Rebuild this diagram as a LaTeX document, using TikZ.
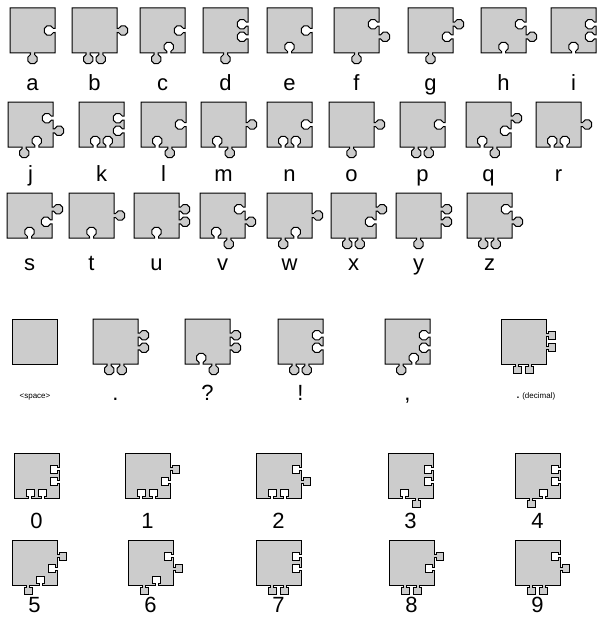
\documentclass[tikz,border=0pt]{standalone}
\usepackage{fontspec}
\setmainfont{Liberation Sans}
\begin{document}
\begin{tikzpicture}[x=1pt,y=1pt,
  piece/.style={draw=black,fill=pgray,line width=1pt,line join=miter},
  lab/.style={anchor=base,inner sep=0pt,font=\fontsize{22}{24}\selectfont},
  small/.style={anchor=base,inner sep=0pt,font=\fontsize{8}{9}\selectfont}]
\definecolor{pgray}{RGB}{204,204,204}
\useasboundingbox[fill=white] (0,0) rectangle (609,-626);
% round knobs
\def\Ro#1{-- ({\pL+45},{\pT-#1*45+2}) -- ({\pL+46.5},{\pT-#1*45+2}) arc[start angle=156.4,end angle=-156.4,radius=5] -- ({\pL+45},{\pT-#1*45-2})}
\def\Ri#1{-- ({\pL+45},{\pT-#1*45+2}) -- ({\pL+43.5},{\pT-#1*45+2}) arc[start angle=23.6,end angle=336.4,radius=5] -- ({\pL+45},{\pT-#1*45-2})}
\def\Bo#1{-- ({\pL+#1*45+2},{\pT-45}) -- ({\pL+#1*45+2},{\pT-46.5}) arc[start angle=66.4,end angle=-246.4,radius=5] -- ({\pL+#1*45-2},{\pT-45})}
\def\Bi#1{-- ({\pL+#1*45+2},{\pT-45}) -- ({\pL+#1*45+2},{\pT-43.5}) arc[start angle=-66.4,end angle=246.4,radius=5] -- ({\pL+#1*45-2},{\pT-45})}
% square knobs
\def\Rso#1{-- ({\pL+45},{\pT-#1*45+1.5}) -- ({\pL+47},{\pT-#1*45+1.5}) -- ({\pL+47},{\pT-#1*45+4}) -- ({\pL+54},{\pT-#1*45+4}) -- ({\pL+54},{\pT-#1*45-4}) -- ({\pL+47},{\pT-#1*45-4}) -- ({\pL+47},{\pT-#1*45-1.5}) -- ({\pL+45},{\pT-#1*45-1.5})}
\def\Rsi#1{-- ({\pL+45},{\pT-#1*45+1.5}) -- ({\pL+43},{\pT-#1*45+1.5}) -- ({\pL+43},{\pT-#1*45+4}) -- ({\pL+36},{\pT-#1*45+4}) -- ({\pL+36},{\pT-#1*45-4}) -- ({\pL+43},{\pT-#1*45-4}) -- ({\pL+43},{\pT-#1*45-1.5}) -- ({\pL+45},{\pT-#1*45-1.5})}
\def\Bso#1{-- ({\pL+#1*45+1.5},{\pT-45}) -- ({\pL+#1*45+1.5},{\pT-47}) -- ({\pL+#1*45+4},{\pT-47}) -- ({\pL+#1*45+4},{\pT-54}) -- ({\pL+#1*45-4},{\pT-54}) -- ({\pL+#1*45-4},{\pT-47}) -- ({\pL+#1*45-1.5},{\pT-47}) -- ({\pL+#1*45-1.5},{\pT-45})}
\def\Bsi#1{-- ({\pL+#1*45+1.5},{\pT-45}) -- ({\pL+#1*45+1.5},{\pT-43}) -- ({\pL+#1*45+4},{\pT-43}) -- ({\pL+#1*45+4},{\pT-36}) -- ({\pL+#1*45-4},{\pT-36}) -- ({\pL+#1*45-4},{\pT-43}) -- ({\pL+#1*45-1.5},{\pT-43}) -- ({\pL+#1*45-1.5},{\pT-45})}
% piece: left, top(px), right-edge knobs, bottom-edge knobs, label, label baseline(px)
\newcommand\pc[6]{\def\pL{#1}\def\pT{-#2}%
  \draw[piece] (\pL,\pT) -- ({\pL+45},\pT) #3 -- ({\pL+45},{\pT-45}) #4 -- (\pL,{\pT-45}) -- cycle;
  \node[lab] (lab-#1-#2) at ({\pL+22.5},-#6) {#5};}
% row 1
\pc{10}{8}{\Ri{0.5}}{\Bo{0.5}}{a}{90}
\pc{72}{8}{\Ro{0.5}}{\Bo{0.64}\Bo{0.36}}{b}{90}
\pc{140}{8}{\Ri{0.5}}{\Bi{0.64}\Bo{0.36}}{c}{90}
\pc{203}{8}{\Ri{0.36}\Ri{0.64}}{\Bo{0.5}}{d}{90}
\pc{267}{8}{\Ri{0.5}}{\Bi{0.5}}{e}{90}
\pc{334}{8}{\Ri{0.36}\Ro{0.64}}{\Bo{0.5}}{f}{90}
\pc{408}{8}{\Ro{0.36}\Ri{0.64}}{\Bo{0.5}}{g}{90}
\pc{481}{8}{\Ri{0.36}\Ro{0.64}}{\Bi{0.5}}{h}{90}
\pc{551}{8}{\Ri{0.36}\Ri{0.64}}{\Bi{0.5}}{i}{90}
% row 2
\pc{8}{102}{\Ri{0.36}\Ro{0.64}}{\Bi{0.64}\Bo{0.36}}{j}{181}
\pc{79}{102}{\Ri{0.36}\Ri{0.64}}{\Bi{0.64}\Bi{0.36}}{k}{181}
\pc{141}{102}{\Ri{0.5}}{\Bo{0.64}\Bi{0.36}}{l}{181}
\pc{201}{102}{\Ro{0.5}}{\Bo{0.64}\Bi{0.36}}{m}{181}
\pc{267}{102}{\Ri{0.5}}{\Bi{0.64}\Bi{0.36}}{n}{181}
\pc{329}{102}{\Ro{0.5}}{\Bo{0.5}}{o}{181}
\pc{400}{102}{\Ri{0.5}}{\Bo{0.64}\Bo{0.36}}{p}{181}
\pc{466}{102}{\Ro{0.36}\Ri{0.64}}{\Bo{0.64}\Bi{0.36}}{q}{181}
\pc{536}{102}{\Ro{0.5}}{\Bi{0.64}\Bi{0.36}}{r}{181}
% row 3
\pc{7}{193}{\Ro{0.36}\Ri{0.64}}{\Bi{0.5}}{s}{270}
\pc{69}{193}{\Ro{0.5}}{\Bi{0.5}}{t}{270}
\pc{134}{193}{\Ro{0.36}\Ro{0.64}}{\Bi{0.5}}{u}{270}
\pc{200}{193}{\Ri{0.36}\Ro{0.64}}{\Bo{0.64}\Bi{0.36}}{v}{270}
\pc{267}{193}{\Ro{0.5}}{\Bi{0.64}\Bo{0.36}}{w}{270}
\pc{331}{193}{\Ro{0.36}\Ri{0.64}}{\Bo{0.64}\Bo{0.36}}{x}{270}
\pc{396}{193}{\Ro{0.36}\Ro{0.64}}{\Bo{0.5}}{y}{270}
\pc{467}{193}{\Ri{0.36}\Ro{0.64}}{\Bo{0.64}\Bo{0.36}}{z}{270}
% punctuation
\draw[piece] (12,-319) rectangle (57,-364);
\node[small] (lspace) at (35,-398) {<space>};
\pc{93}{319}{\Ro{0.36}\Ro{0.64}}{\Bo{0.64}\Bo{0.36}}{.}{400}
\pc{185}{319}{\Ro{0.36}\Ro{0.64}}{\Bo{0.64}\Bi{0.36}}{?}{400}
\pc{278}{319}{\Ri{0.36}\Ri{0.64}}{\Bo{0.64}\Bo{0.36}}{!}{400}
\pc{385}{319}{\Ri{0.36}\Ri{0.64}}{\Bi{0.64}\Bo{0.36}}{,}{400}
\pc{501}{319}{\Rso{0.36}\Rso{0.64}}{\Bso{0.64}\Bso{0.36}}{}{400}
\node[small,anchor=base west] (ldec) at (516,-398) {{\fontsize{14}{14}\selectfont .}~(decimal)};
% digits row 1
\pc{14}{453}{\Rsi{0.36}\Rsi{0.64}}{\Bsi{0.64}\Bsi{0.36}}{0}{528}
\pc{125}{453}{\Rso{0.36}\Rsi{0.64}}{\Bsi{0.64}\Bsi{0.36}}{1}{528}
\pc{256}{453}{\Rsi{0.36}\Rso{0.64}}{\Bsi{0.64}\Bsi{0.36}}{2}{528}
\pc{388}{453}{\Rsi{0.36}\Rsi{0.64}}{\Bso{0.64}\Bsi{0.36}}{3}{528}
\pc{515}{453}{\Rsi{0.36}\Rsi{0.64}}{\Bsi{0.64}\Bso{0.36}}{4}{528}
% digits row 2
\pc{12}{540}{\Rso{0.36}\Rsi{0.64}}{\Bsi{0.64}\Bso{0.36}}{5}{612}
\pc{128}{540}{\Rsi{0.36}\Rso{0.64}}{\Bsi{0.64}\Bso{0.36}}{6}{612}
\pc{256}{540}{\Rsi{0.36}\Rsi{0.64}}{\Bso{0.64}\Bso{0.36}}{7}{612}
\pc{389}{540}{\Rso{0.36}\Rsi{0.64}}{\Bso{0.64}\Bso{0.36}}{8}{612}
\pc{515}{540}{\Rsi{0.36}\Rso{0.64}}{\Bso{0.64}\Bso{0.36}}{9}{612}
\end{tikzpicture}
\end{document}
